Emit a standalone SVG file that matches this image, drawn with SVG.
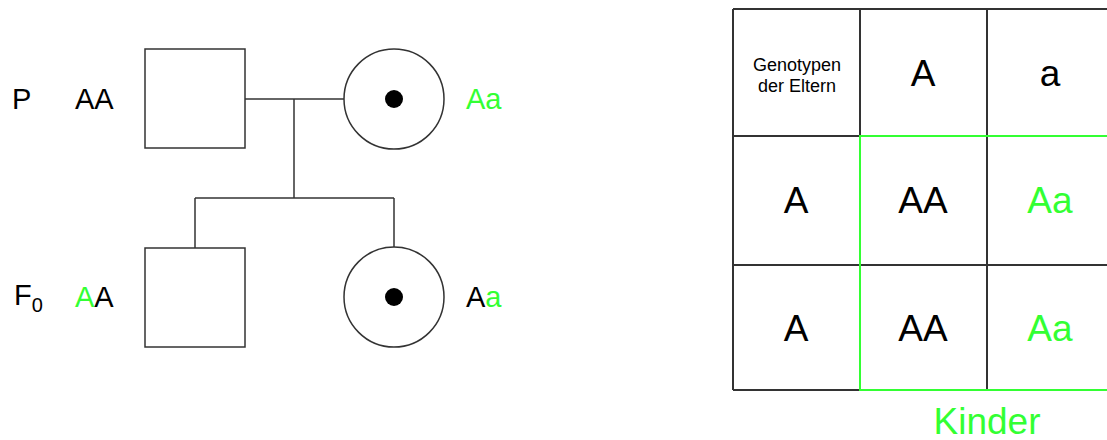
<svg xmlns="http://www.w3.org/2000/svg" width="1107" height="440" viewBox="0 0 1107 440">
  <style>
    text { font-family: "Liberation Sans", Arial, sans-serif; fill: #000; }
    .lbl { font-size: 29px; }
    .sub { font-size: 20px; }
    .cell { font-size: 37px; text-anchor: middle; }
    .small { font-size: 18px; text-anchor: middle; }
    .g { fill: #33ff33; }
    .shape { fill: #fff; stroke: #333; stroke-width: 1.5; }
    .link { fill: none; stroke: #333; stroke-width: 1.5; }
    .grid { fill: none; stroke: #333; stroke-width: 2; }
    .green { fill: none; stroke: #33ff33; stroke-width: 2; }
  </style>

  <!-- generation labels -->
  <g id="labels">
    <text class="lbl" x="12" y="109">P</text>
    <text class="lbl" x="14" y="305">F<tspan class="sub" dy="7">0</tspan></text>
  </g>

  <!-- family lines -->
  <g id="connectors">
    <path class="link" d="M245 99 H344"/>
    <path class="link" d="M294 99 V198"/>
    <path class="link" d="M195 198 H394"/>
    <path class="link" d="M195 198 V248"/>
    <path class="link" d="M394 198 V248"/>
  </g>

  <!-- parents -->
  <g id="father">
    <rect class="shape" x="145" y="49" width="100" height="99"/>
    <text class="lbl" x="75" y="109">AA</text>
  </g>
  <g id="mother">
    <circle class="shape" cx="394" cy="99" r="50"/>
    <circle cx="394" cy="99" r="9" fill="#000"/>
    <text class="lbl" x="466" y="109"><tspan class="g">Aa</tspan></text>
  </g>

  <!-- children -->
  <g id="son">
    <rect class="shape" x="145" y="248" width="100" height="99"/>
    <text class="lbl" x="75" y="307"><tspan class="g">A</tspan>A</text>
  </g>
  <g id="daughter">
    <circle class="shape" cx="394" cy="297" r="50"/>
    <circle cx="394" cy="297" r="9" fill="#000"/>
    <text class="lbl" x="466" y="307">A<tspan class="g">a</tspan></text>
  </g>

  <!-- Punnett square -->
  <g id="punnett">
    <path class="grid" d="M733 9 H1110 M733 136 H1110 M733 265 H1110 M733 390 H860 M733 9 V390 M860 9 V390 M987 9 V390"/>
    <path class="green" d="M1110 136 H860 V390 H1110"/>

    <text class="small" x="797" y="71">Genotypen</text>
    <text class="small" x="797" y="92">der Eltern</text>
    <text class="cell" x="923" y="86">A</text>
    <text class="cell" x="1050" y="86">a</text>

    <text class="cell" x="796" y="213">A</text>
    <text class="cell" x="923" y="213">AA</text>
    <text class="cell g" x="1050" y="213">Aa</text>

    <text class="cell" x="796" y="341">A</text>
    <text class="cell" x="923" y="341">AA</text>
    <text class="cell g" x="1050" y="341">Aa</text>

    <text class="cell g" x="987" y="434">Kinder</text>
  </g>
</svg>
